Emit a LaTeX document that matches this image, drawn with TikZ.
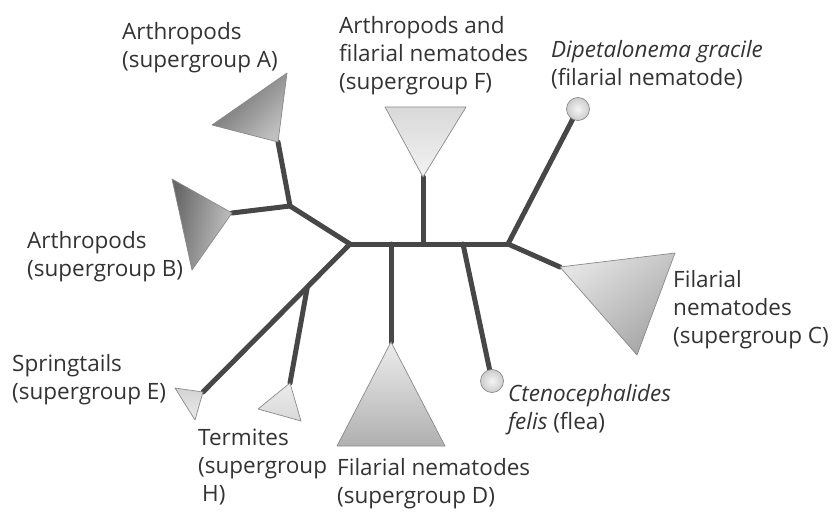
\documentclass[tikz,border=0pt]{standalone}
\usepackage{fontspec}
\setmainfont{Open Sans}
\usetikzlibrary{calc,backgrounds}
\definecolor{branchgray}{HTML}{474747}
\definecolor{textgray}{HTML}{333333}
\definecolor{edgegray}{HTML}{8A8A8A}
\begin{document}
\begin{tikzpicture}[x=1pt,y=-1pt,
  branch/.style={line width=5pt, draw=branchgray, line cap=round},
  clade/.style={draw=edgegray, line width=0.7pt, line join=round},
  lbl/.style={anchor=base west, inner sep=0pt, align=left,
    font=\fontsize{22.5}{28}\selectfont, text=textgray},
  tip/.style={circle, minimum size=23pt, inner sep=0pt, draw=edgegray,
    line width=0.7pt, inner color=gray!8, outer color=gray!40}]
\useasboundingbox (0,0) rectangle (832,513);
% junctions and attach points
\coordinate (J1) at (350,244);
\coordinate (J2) at (290,206);
\coordinate (J3) at (508,244);
\coordinate (tE) at (203,392);
\coordinate (JH) at ($(J1)!0.29!(tE)$);
\coordinate (bD) at (391,244);
\coordinate (bF) at (423,244);
\coordinate (bCf) at (463,244);
\coordinate (tA) at (278,142);
\coordinate (tB) at (232,213);
\coordinate (tH) at (290,383);
\coordinate (tD) at (391,342);
\coordinate (tF) at (423,177);
\coordinate (tC) at (560,267);
% tips
\node[tip] (dip) at (578,109) {};
\node[tip] (cte) at (492,381) {};
% branches
\begin{scope}[on background layer]
\draw[branch] (J1) -- (J3);
\draw[branch] (J1) -- (J2);
\draw[branch] (J2) -- (tA);
\draw[branch] (J2) -- (tB);
\draw[branch] (J1) -- (tE);
\draw[branch] (JH) -- (tH);
\draw[branch] (bD) -- (tD);
\draw[branch] (bF) -- (tF);
\draw[branch] (bCf) -- (cte.center);
\draw[branch] (J3) -- (dip.center);
\draw[branch] (J3) -- (tC);
\end{scope}
% clades
\path[clade, top color=gray!80!black, bottom color=gray!50, shading angle=45]
  (287,73) -- (212,125) -- (tA) -- cycle;
\path[clade, top color=gray!80!black, bottom color=gray!45, shading angle=80]
  (172,179) -- (192,270) -- (tB) -- cycle;
\path[clade, top color=gray!22, bottom color=gray!70, shading angle=40]
  (tC) -- (675,253) -- (637,355) -- cycle;
\path[clade, top color=gray!15, bottom color=gray!62]
  (tD) -- (337,446) -- (445,446) -- cycle;
\path[clade, top color=gray!30, bottom color=gray!10]
  (385,107) -- (466,107) -- (tF) -- cycle;
\path[clade, top color=gray!35, bottom color=gray!15]
  (175,388) -- (tE) -- (195,420) -- cycle;
\path[clade, top color=gray!15, bottom color=gray!30]
  (tH) -- (258,409) -- (301,421) -- cycle;
% labels (anchored at the baseline of the last line)
\node[lbl] (labA) at (122,68) {Arthropods\\(supergroup A)};
\node[lbl] (labF) at (339,90) {Arthropods and\\filarial nematodes\\(supergroup F)};
\node[lbl] (labDip) at (551,86) {\textit{Dipetalonema gracile}\\(filarial nematode)};
\node[lbl] (labB) at (27,276) {Arthropods\\(supergroup B)};
\node[lbl] (labC) at (673,343) {Filarial\\nematodes\\(supergroup C)};
\node[lbl] (labE) at (12,399) {Springtails\\(supergroup E)};
\node[lbl] (labH) at (198,501) {Termites\\(supergroup\\\hspace*{4pt}H)};
\node[lbl] (labD) at (337,503) {Filarial nematodes\\(supergroup D)};
\node[lbl] (labCte) at (508,429) {\textit{Ctenocephalides}\\\textit{felis} (flea)};
\end{tikzpicture}
\end{document}
